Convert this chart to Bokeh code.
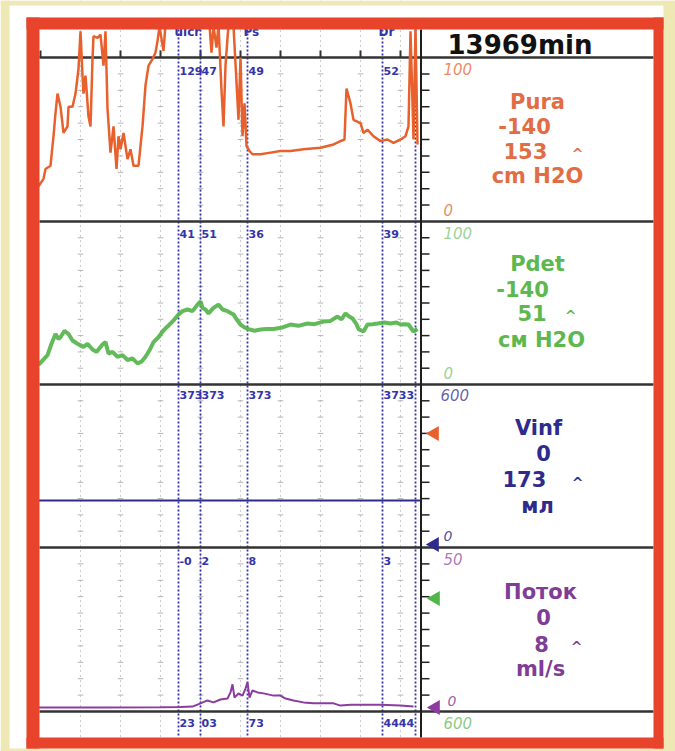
import numpy as np
from bokeh.plotting import figure
from bokeh.models import Range1d, BoxAnnotation, Grid, FixedTicker
from bokeh.core.properties import value
from bokeh.embed import file_html
from bokeh.resources import INLINE

# ---------------- data (time in s, values in channel units) ----------------
pura_t = [-0.5, 0.75, 1.25, 2.5, 3.25, 3.75, 4.25, 5.0, 5.75, 6.75,
          7.0, 8.0, 8.75, 9.5, 10.0, 10.5, 10.75, 11.25, 12.0, 12.5,
          13.0, 13.25, 14.25, 15.0, 15.75, 16.25, 16.75, 17.5, 18.25, 19.0,
          19.5, 20.0, 20.75, 21.75, 22.5, 23.25, 24.5, 25.5, 26.25, 27.0,
          28.0, 28.75, 29.25, 29.75, 30.75, 31.25, 37.5, 42.25, 42.75, 43.25,
          44.0, 44.5, 45.25, 45.75, 46.25, 47.0, 48.25, 49.0, 49.5, 50.0,
          50.5, 51.0, 51.5, 52.25, 53.0, 55.0, 57.5, 60.0, 62.5, 65.75,
          70.0, 73.25, 75.0, 76.0, 76.5, 77.5, 78.25, 80.0, 80.75, 81.75,
          83.25, 85.0, 86.75, 88.25, 90.0, 91.25, 92.0, 92.5, 93.25, 93.75,
          94.25]
pura_v = [21.5, 26, 32, 34, 52, 66, 78, 70, 54, 58,
          70, 70, 78, 93, 116, 89, 78, 89, 64, 58,
          99, 113, 112, 114, 95, 116, 69, 42, 58, 32,
          52, 44, 54, 38, 44, 34, 34, 58, 83, 95,
          99, 103, 110, 119, 104, 120, 121, 120, 103, 119,
          106, 120, 80, 58, 95, 120, 119, 85, 62, 100,
          52, 72, 46, 43, 41, 41, 42, 43, 43, 44,
          45, 47, 49, 50, 81, 72, 62, 60, 54, 56,
          52, 49, 50, 48, 50, 52, 58, 116, 50, 118,
          47]

pdet_t = [-0.5, 1.0, 1.75, 2.75, 3.75, 4.5, 5.0, 6.0, 7.0, 8.0,
          9.25, 10.0, 10.75, 11.75, 13.0, 14.0, 15.5, 16.25, 17.0, 18.0,
          19.25, 20.5, 21.75, 23.0, 24.25, 25.25, 26.25, 27.25, 28.25, 29.5,
          30.5, 31.5, 32.5, 33.5, 34.5, 35.5, 36.75, 38.0, 39.25, 40.0,
          40.5, 41.25, 42.0, 43.25, 44.5, 45.5, 46.75, 48.25, 49.0, 50.0,
          51.0, 52.0, 53.5, 55.0, 56.5, 58.25, 60.5, 62.5, 64.5, 66.75,
          68.5, 70.75, 72.5, 74.25, 75.25, 76.25, 77.0, 78.0, 79.0, 79.5,
          80.75, 81.75, 83.0, 84.25, 86.0, 87.5, 89.0, 90.0, 91.0, 92.0,
          93.25, 94.25]
pdet_v = [12, 16, 18, 25, 31, 28, 29, 33, 31, 27,
          25, 24, 23, 25, 21.5, 20, 24.5, 26, 19, 20,
          17, 18, 15, 16, 13, 14, 17, 21, 26, 29,
          32.5, 35, 37.4, 40, 43, 45, 46, 45, 49, 51,
          47, 46, 43.6, 47, 49, 46, 45, 43, 40, 36.8,
          35, 34, 33, 33.7, 34, 34, 35, 36.8, 36, 37.4,
          37, 38.6, 39, 41.7, 40, 43.6, 42, 40.5, 37, 34,
          32.5, 36.8, 37, 37.4, 38, 37.4, 38, 36.8, 37, 36.8,
          32.5, 34]

vinf_t = [-0.5, 95.0]
vinf_v = [173, 173]

flow_t = [-0.5, 15.0, 30.0, 35.0, 38.0, 40.0, 41.75, 43.25, 45.0, 46.75,
          47.5, 48.0, 48.5, 49.5, 50.5, 51.25, 51.75, 52.25, 53.0, 54.25,
          55.75, 58.25, 60.0, 61.25, 63.25, 65.75, 68.25, 73.25, 75.0, 77.5,
          81.75, 85.0, 90.0, 93.25]
flow_v = [0.3, 0.3, 0.4, 0.5, 0.6, 1.6, 2.5, 1.9, 2.8, 3.1,
          5.0, 7.5, 3.4, 4.7, 4.0, 6.2, 8.1, 3.4, 5.6, 5.0,
          4.7, 4.0, 4.0, 3.1, 2.5, 1.9, 1.6, 1.6, 0.9, 1.2,
          1.2, 1.2, 0.9, 0.6]

grid_t = [10, 20, 30, 40, 50, 60, 70, 80, 90]
event_t = [34.5, 40.0, 51.75, 85.5, 93.75]
event_names = ["ulcr", "", "Ps", "Dr", ""]
pura_at_ev = ["129", "47", "49", "52", ""]
pdet_at_ev = ["41", "51", "36", "39", ""]
vinf_at_ev = ["373", "373", "373", "3733", ""]
flow_at_ev = ["-0", "2", "8", "3", ""]
ch5_at_ev = ["23", "03", "73", "4444", ""]

# ---------------- layout (reference pixel frame) ----------------
XL, XR, YT, YB = 0, 675, 0, 751
T0_PX, PX_PER_S = 40.0, 4.0
SEPS = [57, 221, 384, 547, 711]
PANELS = {"pura": (221, 57, 100), "pdet": (384, 221, 100),
          "vinf": (547, 384, 600), "flow": (708, 547, 50)}

ORANGE = "#E8612C"
GREEN = "#52B348"
NAVY = "#2E2B8C"
PURPLE = "#8C3C9E"
EVBLUE = "#3434A8"
RED = "#E8432B"
CREAM = "#EEE8B5"


def vrange(px0, px1, vtop):
    s = vtop / (px0 - px1)
    return Range1d(start=-(YB - px0) * s, end=(px0 - YT) * s)


p = figure(width=XR - XL, height=YB - YT,
           x_range=Range1d(XL, XR), y_range=Range1d(YB, YT),
           x_axis_type=None, y_axis_type=None, toolbar_location=None,
           output_backend="svg", min_border=0, outline_line_color=None,
           background_fill_color="white", border_fill_color="white",
           title_location=None)
p.extra_x_ranges = {"time": Range1d((XL - T0_PX) / PX_PER_S, (XR - T0_PX) / PX_PER_S)}
p.extra_y_ranges = {k: vrange(*v) for k, v in PANELS.items()}

# grid (time)
g = Grid(dimension=0, ticker=FixedTicker(ticks=grid_t), x_range_name="time",
         grid_line_color="#9a9a9a", grid_line_dash="1 4", grid_line_width=1)
p.add_layout(g)

# grid crosses and right-hand ticks
cx0, cx1, cy, ty = [], [], [], []
for a, b in zip(SEPS[:-1], SEPS[1:]):
    for k in range(1, 10):
        y = a + k * (b - a) / 10.0
        for t in grid_t:
            cx0.append(t - 0.7); cx1.append(t + 0.7); cy.append(y)
        ty.append(y)
p.segment(x0=cx0, y0=cy, x1=cx1, y1=cy, x_range_name="time",
          line_color="#b5b5b5", line_width=1)
p.segment(x0=[421] * len(ty), y0=ty, x1=[429] * len(ty), y1=ty,
          line_color="#222222", line_width=1.5)
top_ticks = [0] + grid_t
p.segment(x0=top_ticks, y0=[50] * len(top_ticks), x1=top_ticks, y1=[57] * len(top_ticks),
          x_range_name="time", line_color="#333333", line_width=2)

# event markers
p.segment(x0=event_t, y0=[29] * len(event_t), x1=event_t, y1=[737] * len(event_t),
          x_range_name="time", line_color=EVBLUE, line_width=1.8, line_dash="2 2")

# separators and column line
p.segment(x0=[39] * len(SEPS), y0=SEPS, x1=[653] * len(SEPS), y1=SEPS,
          line_color="#333333", line_width=2.5)
p.segment(x0=[420.5], y0=[29], x1=[420.5], y1=[737], line_color="#1e1e1e", line_width=2)

# traces
p.line(vinf_t, vinf_v, x_range_name="time", y_range_name="vinf",
       line_color=NAVY, line_width=2)
p.line(flow_t, flow_v, x_range_name="time", y_range_name="flow",
       line_color=PURPLE, line_width=2)
p.line(pdet_t, pdet_v, x_range_name="time", y_range_name="pdet",
       line_color=GREEN, line_width=4, line_alpha=0.9)
p.line(pura_t, pura_v, x_range_name="time", y_range_name="pura",
       line_color=ORANGE, line_width=2.5)

# event value labels
font = value("DejaVu Sans")
for row, yy in [(pura_at_ev, 70), (pdet_at_ev, 233), (vinf_at_ev, 394),
                (flow_at_ev, 560), (ch5_at_ev, 722)]:
    p.text(x=event_t, y=[yy] * len(event_t), text=row, x_range_name="time",
           x_offset=1, text_color=EVBLUE, text_font=font, text_font_size="11px",
           text_font_style="bold", text_align="left", text_baseline="middle")
p.text(x=event_t, y=[38] * len(event_t), text=event_names, x_range_name="time",
       x_offset=-4, text_color=EVBLUE, text_font=font, text_font_size="12px",
       text_font_style="bold", text_align="left", text_baseline="bottom")


def txt(x, y, s, color, size, style="bold", align="center", alpha=1.0):
    p.text(x=[x], y=[y], text=[s], text_color=color, text_alpha=alpha,
           text_font=font, text_font_size=f"{size}px", text_font_style=style,
           text_align=align, text_baseline="middle")


txt(447, 44, "13969min", "#111111", 26, align="left")

# Pura block
txt(443, 68, "100", ORANGE, 15, "italic", "left", 0.75)
txt(537, 101, "Pura", "#E26D45", 21)
txt(524, 125, "-140", "#E26D45", 21)
txt(503, 150, "153", "#E26D45", 21, align="left")
txt(577, 153, "^", "#E26D45", 14)
txt(537, 175, "cm H2O", "#E26D45", 21)
txt(443, 209, "0", ORANGE, 15, "italic", "left", 0.75)
# Pdet block
txt(443, 232, "100", GREEN, 15, "italic", "left", 0.6)
txt(537, 263, "Pdet", "#5DB84E", 21)
txt(522, 288, "-140", "#5DB84E", 21)
txt(517, 312, "51", "#5DB84E", 21, align="left")
txt(570, 315, "^", "#5DB84E", 14)
txt(541, 339, "см H2O", "#5DB84E", 21)
txt(443, 372, "0", GREEN, 15, "italic", "left", 0.6)
# Vinf block
txt(440, 394, "600", NAVY, 15, "italic", "left", 0.75)
txt(538, 427, "Vinf", NAVY, 21)
txt(543, 452, "0", NAVY, 21)
txt(502, 478, "173", NAVY, 21, align="left")
txt(577, 482, "^", NAVY, 14)
txt(537, 505, "мл", NAVY, 21)
txt(443, 535, "0", NAVY, 14, "italic", "left", 0.85)
# Flow block
txt(443, 558, "50", PURPLE, 15, "italic", "left", 0.7)
txt(540, 591, "Поток", "#7F3D96", 21)
txt(543, 616, "0", "#7F3D96", 21)
txt(541, 643, "8", "#7F3D96", 21)
txt(576, 646, "^", "#7F3D96", 14)
txt(540, 668, "ml/s", "#7F3D96", 21)
txt(447, 700, "0", PURPLE, 14, "italic", "left", 0.85)
txt(443, 722, "600", GREEN, 15, "italic", "left", 0.7)

# side markers
p.scatter(x=[434, 434, 435, 435], y=[433, 544, 598, 707], marker="triangle",
          size=15, angle=np.pi / 2,
          fill_color=[ORANGE, NAVY, "#4DB848", PURPLE], line_color=None)

# page border: white strips, cream, red frame
for l, r, t, b, c in [(XL, XR, YT, 17, "white"), (XL, 26, YT, YB, "white"),
                      (26, 663, 748, YB, "white"),
                      (XL, XR, YT, 5, CREAM), (XL, 9, YT, YB, CREAM),
                      (663, XR, YT, YB, CREAM), (XL, XR, 748, YB, CREAM),
                      (26, 663, 17, 29, RED), (26, 39, 17, 748, RED),
                      (653, 663, 17, 748, RED), (26, 663, 737, 748, RED)]:
    p.add_layout(BoxAnnotation(left=l, right=r, top=t, bottom=b, fill_color=c,
                               fill_alpha=1, line_color=None, line_alpha=0))

open("out.html", "w").write(file_html(p, INLINE))
